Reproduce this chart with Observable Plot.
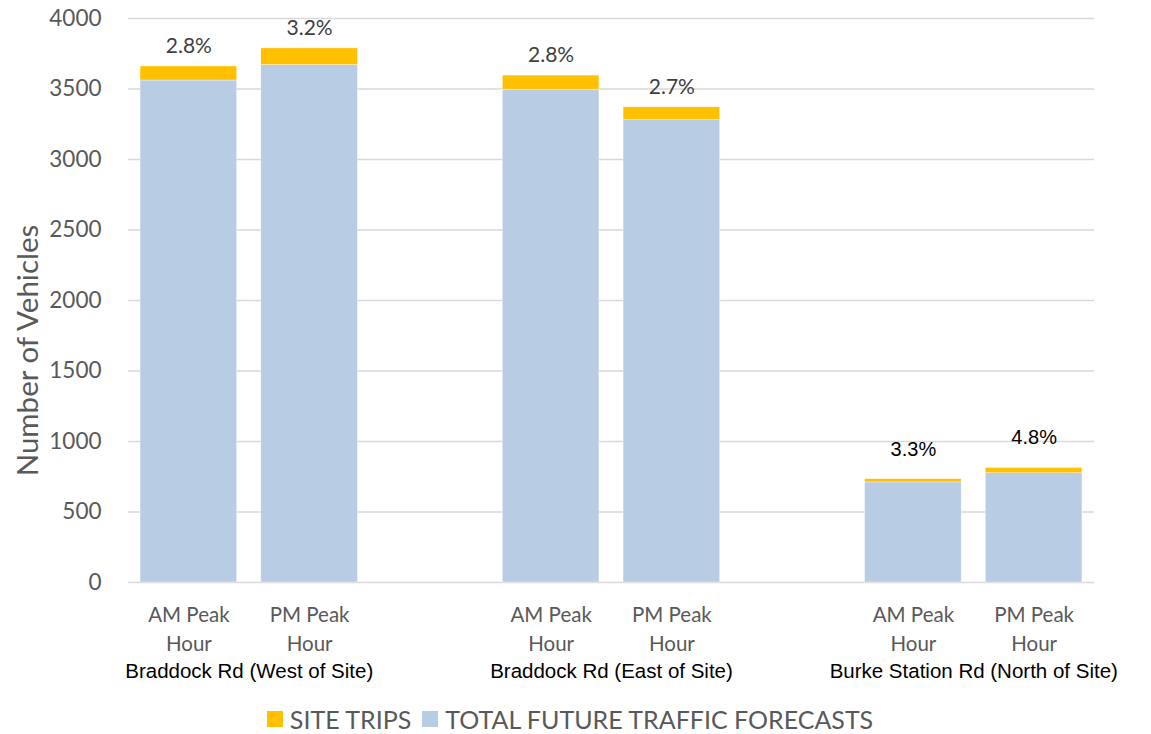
<!DOCTYPE html>
<html><head><meta charset="utf-8">
<script src="https://cdn.jsdelivr.net/npm/d3@7"></script>
<script src="https://cdn.jsdelivr.net/npm/@observablehq/plot@0.6"></script>
<style>
body{margin:0;background:#fff;overflow:hidden;}
#chart svg{display:block;}
#legend{display:flex;justify-content:center;align-items:center;height:30px;line-height:30px;font-family:Lato,"Open Sans",sans-serif;font-size:25px;color:#595959;}
#legend .item{display:flex;align-items:center;margin-right:11px;}
#legend .sw{width:16px;height:16px;margin-right:7px;}
</style>
</head><body>
<div id="chart"></div>
<div id="legend"></div>
<script>
// ---- data ----
const slots = ["W-AM","W-PM","gap1","E-AM","E-PM","gap2","N-AM","N-PM"];
const barSlots = ["W-AM","W-PM","E-AM","E-PM","N-AM","N-PM"];
const periodLabels = ["AM Peak\nHour","PM Peak\nHour","AM Peak\nHour","PM Peak\nHour","AM Peak\nHour","PM Peak\nHour"];
const roadSlots = ["W-AM","E-AM","N-AM"];
const roads = ["Braddock Rd (West of Site)","Braddock Rd (East of Site)","Burke Station Rd (North of Site)"];
const totalFuture = [3560,3670,3495,3280,710,775];
const siteTrips = [100,118,100,90,23,37];
const pctLabels = ["2.8%","3.2%","2.8%","2.7%","3.3%","4.8%"];
const seriesNames = ["SITE TRIPS","TOTAL FUTURE TRAFFIC FORECASTS"];
const seriesColors = ["#FFC000","#B8CCE4"];
const yTicks = [0,500,1000,1500,2000,2500,3000,3500,4000];

// ---- layout ----
const W = 1151, H = 704;
const pLeft = 128, pRight = 1094, pTop = 18, pBottom = 582;
const step = (pRight-pLeft)/slots.length;

const long = [];
barSlots.forEach((s,i)=>{
  long.push({slot:s, series:seriesNames[1], value:totalFuture[i], order:0});
  long.push({slot:s, series:seriesNames[0], value:siteTrips[i], order:1});
});
const totals = barSlots.map((s,i)=>({slot:s, total:totalFuture[i]+siteTrips[i], label:pctLabels[i], idx:i}));
const periods = barSlots.map((s,i)=>({slot:s, label:periodLabels[i]}));
const roadData = roadSlots.map((s,i)=>({slot:s, label:roads[i]}));

const chart = Plot.plot({
  width: W, height: H,
  marginLeft: pLeft, marginRight: W-pRight, marginTop: pTop, marginBottom: H-pBottom,
  style:{fontFamily:"Lato, 'Open Sans', sans-serif", background:"#fff"},
  x:{type:"band", domain:slots, paddingInner:0.2, paddingOuter:0.1, round:false, axis:null},
  y:{domain:[0,4000], axis:null},
  color:{domain:seriesNames, range:seriesColors},
  marks:[
    Plot.ruleY(yTicks, {stroke:"#d9d9d9", strokeWidth:1.3}),
    Plot.barY(long, {x:"slot", y:"value", fill:"series", order:(d)=>d.order, stroke:"#fff", strokeWidth:0.6, strokeOpacity:0.6}),
    Plot.text(yTicks, {frameAnchor:"left", y:d=>d, text:d=>String(d), textAnchor:"end", dx:-27, fontSize:22.5, fill:"#595959"}),
    Plot.text(["Number of Vehicles"], {frameAnchor:"left", rotate:-90, textAnchor:"middle", dx:-100, dy:50, fontSize:29.5, fill:"#595959"}),
    Plot.text(totals.filter(d=>d.idx<4), {x:"slot", y:"total", text:"label", dy:-20, fontSize:21, fill:"#404040"}),
    Plot.text(totals.filter(d=>d.idx>=4), {x:"slot", y:"total", text:"label", dy:-30, fontSize:20, fill:"#000", fontFamily:"Liberation Sans, Arial, sans-serif"}),
    Plot.text(periods, {x:"slot", frameAnchor:"bottom", text:"label", lineAnchor:"top", dy:19, lineHeight:1.4, fontSize:20.5, fill:"#595959"}),
    Plot.text(roadData, {x:"slot", frameAnchor:"bottom", text:"label", dx:step/2, dy:95, fontSize:20.5, fill:"#000", fontFamily:"Liberation Sans, Arial, sans-serif"})
  ]
});
document.getElementById("chart").append(chart);

const lg = document.getElementById("legend");
seriesNames.forEach((n,i)=>{
  const it = document.createElement("div"); it.className="item";
  const sw = document.createElement("div"); sw.className="sw"; sw.style.background=seriesColors[i];
  const t = document.createElement("span"); t.textContent=n;
  it.append(sw,t); lg.append(it);
});
</script>
</body></html>
